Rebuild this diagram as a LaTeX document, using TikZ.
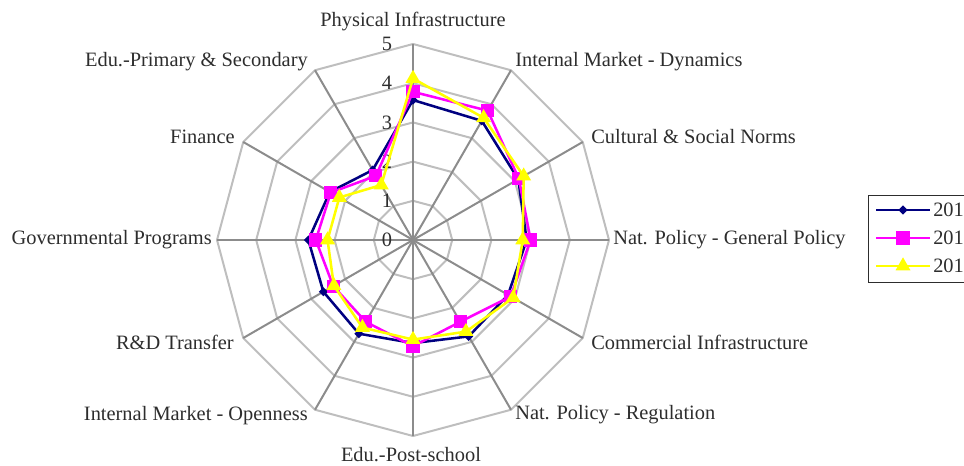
\documentclass[tikz,border=0pt]{standalone}
\usepackage{fontspec}
\setmainfont{Liberation Serif}
\usepackage{xcolor}
\usetikzlibrary{shapes.geometric, positioning}

\definecolor{ringgray}{RGB}{190,190,190}
\definecolor{spokegray}{RGB}{140,140,140}
\definecolor{navyline}{RGB}{0,0,128}
\definecolor{magline}{RGB}{255,0,255}
\definecolor{yelline}{RGB}{255,255,0}
\definecolor{labeltext}{RGB}{45,45,45}

\begin{document}
\begin{tikzpicture}[x=0.75pt, y=-0.75pt, font=\fontsize{15.3}{17}\selectfont]
\tikzstyle{ring} = [draw=ringgray, line width=1.5pt, line join=miter]
\tikzstyle{spoke} = [draw=spokegray, line width=1.5pt]
\tikzstyle{axislabel} = [text=labeltext, inner sep=0pt]
\tikzstyle{ticklabel} = [text=labeltext, inner sep=0pt]
\tikzstyle{navyseries} = [draw=navyline, line width=1.9pt, line join=round]
\tikzstyle{magseries} = [draw=magline, line width=1.9pt, line join=round]
\tikzstyle{yelseries} = [draw=yelline, line width=1.9pt, line join=round]
\tikzstyle{navymark} = [diamond, fill=navyline, inner sep=0pt, minimum size=7pt]
\tikzstyle{magmark} = [rectangle, fill=magline, inner sep=0pt, minimum size=9.8pt]
\tikzstyle{yelmark} = [regular polygon, regular polygon sides=3, fill=yelline, inner sep=0pt, minimum size=13pt]

\useasboundingbox (0,0) rectangle (964,466);

\def\unitr{39.2}
\def\navydata{3.57,3.51,3.10,2.90,2.80,2.84,2.63,2.76,2.64,2.67,2.45,2.06}
\def\magdata{3.78,3.81,3.12,3.00,2.88,2.41,2.71,2.41,2.35,2.48,2.42,1.89}
\def\yeldata{4.12,3.60,3.26,2.80,2.95,2.70,2.54,2.58,2.33,2.18,2.17,1.62}

\begin{scope}[shift={(413,240)}]
% grid
\foreach \r in {1,...,5}
  \draw[ring] (-90:{\r*\unitr}) \foreach \k in {1,...,11}{-- ({-90+30*\k}:{\r*\unitr})} -- cycle;
\foreach \k in {0,...,11}
  \draw[spoke] (0,0) -- ({-90+30*\k}:{5*\unitr});
\foreach \v in {0,...,5}
  \node[ticklabel] (tick\v) at (-26,{-\v*\unitr}) {\v};

% series
\foreach \v [count=\k from 0] in \navydata
  \coordinate (nv\k) at ({-90+30*\k}:{\v*\unitr});
\foreach \v [count=\k from 0] in \magdata
  \coordinate (mg\k) at ({-90+30*\k}:{\v*\unitr});
\foreach \v [count=\k from 0] in \yeldata
  \coordinate (yl\k) at ({-90+30*\k}:{\v*\unitr});

\draw[navyseries] (nv0) \foreach \k in {1,...,11}{-- (nv\k)} -- cycle;
\foreach \k in {0,...,11} \node[navymark] (nvm\k) at (nv\k) {};
\draw[magseries] (mg0) \foreach \k in {1,...,11}{-- (mg\k)} -- cycle;
\foreach \k in {0,...,11} \node[magmark] (mgm\k) at (mg\k) {};
\draw[yelseries] (yl0) \foreach \k in {1,...,11}{-- (yl\k)} -- cycle;
\foreach \k in {0,...,11} \node[yelmark] (ylm\k) at (yl\k) {};
\end{scope}

% axis labels
\node[axislabel] (phys) at (413,22) {Physical Infrastructure};
\node[axislabel, anchor=west] (imdyn) at (515,62) {Internal Market - Dynamics};
\node[axislabel, anchor=west] (cult) at (591,137) {Cultural \& Social Norms};
\node[axislabel, anchor=west] (npgen) at (613,240) {Nat. Policy - General Policy};
\node[axislabel, anchor=west] (comm) at (591,342) {Commercial Infrastructure};
\node[axislabel, anchor=west] (npreg) at (515,415) {Nat. Policy - Regulation};
\node[axislabel] (edupost) at (411,455) {Edu.-Post-school};
\node[axislabel, anchor=east] (imopen) at (308,416) {Internal Market - Openness};
\node[axislabel, anchor=east] (rnd) at (234,342) {R\&D Transfer};
\node[axislabel, anchor=east] (gov) at (212,240) {Governmental Programs};
\node[axislabel, anchor=east] (fin) at (235,137) {Finance};
\node[axislabel, anchor=east] (eduprim) at (308,62) {Edu.-Primary \& Secondary};

% legend
\node[draw=labeltext, line width=0.9pt, anchor=north west, minimum width=80pt, minimum height=65pt, inner sep=0pt] (legend) at (868,195) {};
\coordinate (navya) at (876,210);
\coordinate (navyb) at (930,210);
\coordinate (maga) at (876,238);
\coordinate (magb) at (930,238);
\coordinate (yela) at (876,266);
\coordinate (yelb) at (930,266);
\draw[navyseries] (navya) -- (navyb);
\node[navymark] (navykey) at (903,210) {};
\draw[magseries] (maga) -- (magb);
\node[magmark] (magkey) at (903,238) {};
\draw[yelseries] (yela) -- (yelb);
\node[yelmark] (yelkey) at (903,266) {};
\node[axislabel, anchor=west] (navytext) at (933,210) {2013};
\node[axislabel, anchor=west] (magtext) at (933,238) {2014};
\node[axislabel, anchor=west] (yeltext) at (933,266) {2015};
\end{tikzpicture}
\end{document}
